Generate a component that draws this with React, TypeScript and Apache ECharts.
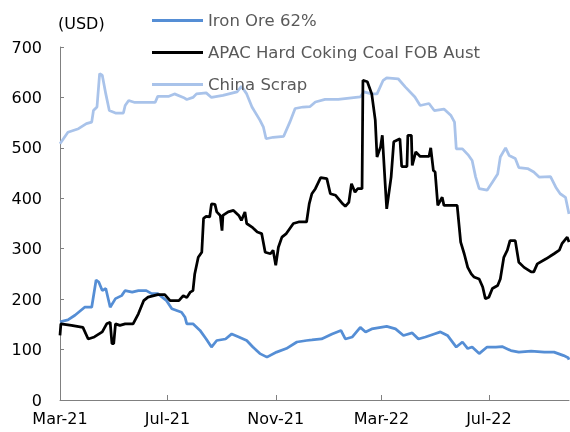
import React, { useEffect, useRef } from "react";
import * as echarts from "echarts";

const ironOre: [string, number][] = [
  ["2021-03-01", 155], ["2021-03-10", 159], ["2021-03-18", 168], ["2021-03-29", 184],
  ["2021-04-06", 184], ["2021-04-11", 238], ["2021-04-14", 234], ["2021-04-18", 217],
  ["2021-04-22", 221], ["2021-04-27", 184], ["2021-05-03", 201], ["2021-05-10", 207],
  ["2021-05-14", 217], ["2021-05-22", 214], ["2021-05-29", 217], ["2021-06-07", 217],
  ["2021-06-13", 211], ["2021-06-20", 211], ["2021-06-30", 197], ["2021-07-06", 181],
  ["2021-07-17", 174], ["2021-07-21", 164], ["2021-07-23", 151], ["2021-07-30", 151],
  ["2021-08-07", 138], ["2021-08-14", 121], ["2021-08-20", 105], ["2021-08-26", 118],
  ["2021-09-05", 121], ["2021-09-12", 131], ["2021-09-20", 125], ["2021-09-29", 118],
  ["2021-10-06", 105], ["2021-10-14", 92], ["2021-10-22", 85], ["2021-11-02", 95],
  ["2021-11-13", 102], ["2021-11-25", 115], ["2021-12-06", 118], ["2021-12-12", 119],
  ["2021-12-23", 121], ["2022-01-04", 131], ["2022-01-14", 138], ["2022-01-19", 121],
  ["2022-01-27", 125], ["2022-02-05", 144], ["2022-02-11", 135], ["2022-02-18", 141],
  ["2022-03-07", 146], ["2022-03-17", 141], ["2022-03-26", 128], ["2022-04-05", 133],
  ["2022-04-12", 121], ["2022-04-20", 125], ["2022-04-30", 131], ["2022-05-07", 135],
  ["2022-05-15", 128], ["2022-05-25", 105], ["2022-06-01", 115], ["2022-06-07", 102],
  ["2022-06-12", 105], ["2022-06-20", 92], ["2022-06-29", 105], ["2022-07-09", 105],
  ["2022-07-16", 106], ["2022-07-26", 98], ["2022-08-04", 95], ["2022-08-18", 97],
  ["2022-09-02", 95], ["2022-09-13", 95], ["2022-09-24", 88], ["2022-09-29", 84],
  ["2022-09-30", 80],
];

const cokingCoal: [string, number][] = [
  ["2021-03-01", 128], ["2021-03-02", 151], ["2021-03-14", 148], ["2021-03-27", 144],
  ["2021-04-02", 121], ["2021-04-09", 125], ["2021-04-18", 135], ["2021-04-23", 151],
  ["2021-04-27", 154], ["2021-04-29", 112], ["2021-05-01", 112], ["2021-05-03", 151],
  ["2021-05-08", 148], ["2021-05-14", 151], ["2021-05-23", 151], ["2021-05-29", 171],
  ["2021-06-04", 197], ["2021-06-09", 204], ["2021-06-20", 209], ["2021-06-28", 209],
  ["2021-07-04", 197], ["2021-07-14", 197], ["2021-07-19", 207], ["2021-07-23", 203],
  ["2021-07-27", 214], ["2021-07-30", 217], ["2021-08-01", 250], ["2021-08-05", 283],
  ["2021-08-09", 293], ["2021-08-11", 360], ["2021-08-14", 364], ["2021-08-18", 363],
  ["2021-08-20", 389], ["2021-08-24", 388], ["2021-08-26", 373], ["2021-08-30", 366],
  ["2021-09-01", 336], ["2021-09-02", 366], ["2021-09-08", 373], ["2021-09-14", 376],
  ["2021-09-20", 366], ["2021-09-23", 356], ["2021-09-27", 373], ["2021-09-29", 350],
  ["2021-10-05", 343], ["2021-10-11", 333], ["2021-10-16", 330], ["2021-10-20", 293],
  ["2021-10-26", 290], ["2021-10-29", 297], ["2021-11-01", 267], ["2021-11-04", 303],
  ["2021-11-08", 323], ["2021-11-13", 330], ["2021-11-21", 350], ["2021-11-27", 353],
  ["2021-12-06", 353], ["2021-12-09", 389], ["2021-12-12", 409], ["2021-12-16", 419],
  ["2021-12-22", 441], ["2021-12-29", 439], ["2022-01-02", 409], ["2022-01-08", 406],
  ["2022-01-16", 389], ["2022-01-19", 384], ["2022-01-23", 392], ["2022-01-26", 429],
  ["2022-01-30", 412], ["2022-02-02", 419], ["2022-02-07", 419], ["2022-02-08", 634],
  ["2022-02-13", 631], ["2022-02-18", 607], ["2022-02-22", 555], ["2022-02-24", 482],
  ["2022-02-28", 502], ["2022-03-02", 525], ["2022-03-05", 436], ["2022-03-07", 379],
  ["2022-03-12", 442], ["2022-03-15", 512], ["2022-03-22", 518], ["2022-03-24", 463],
  ["2022-03-30", 463], ["2022-03-31", 525], ["2022-04-04", 525], ["2022-04-05", 465],
  ["2022-04-09", 492], ["2022-04-14", 483], ["2022-04-24", 483], ["2022-04-26", 500],
  ["2022-04-29", 455], ["2022-05-01", 452], ["2022-05-04", 386], ["2022-05-09", 402],
  ["2022-05-11", 386], ["2022-05-26", 386], ["2022-05-30", 313], ["2022-06-03", 290],
  ["2022-06-07", 263], ["2022-06-11", 250], ["2022-06-14", 244], ["2022-06-20", 240],
  ["2022-06-24", 224], ["2022-06-27", 201], ["2022-07-01", 204], ["2022-07-05", 221],
  ["2022-07-11", 227], ["2022-07-14", 240], ["2022-07-18", 283], ["2022-07-22", 297],
  ["2022-07-25", 316], ["2022-07-31", 316], ["2022-08-04", 273], ["2022-08-10", 263],
  ["2022-08-18", 254], ["2022-08-21", 254], ["2022-08-25", 270], ["2022-09-04", 280],
  ["2022-09-13", 290], ["2022-09-19", 297], ["2022-09-22", 310], ["2022-09-28", 323],
  ["2022-09-30", 313],
];

const chinaScrap: [string, number][] = [
  ["2021-03-01", 508], ["2021-03-10", 531], ["2021-03-22", 538], ["2021-03-31", 548],
  ["2021-04-06", 551], ["2021-04-08", 574], ["2021-04-12", 581], ["2021-04-15", 647],
  ["2021-04-18", 644], ["2021-04-22", 607], ["2021-04-26", 574], ["2021-05-03", 569],
  ["2021-05-12", 569], ["2021-05-14", 584], ["2021-05-18", 594], ["2021-05-25", 590],
  ["2021-06-05", 590], ["2021-06-17", 590], ["2021-06-20", 602], ["2021-07-02", 602],
  ["2021-07-09", 607], ["2021-07-19", 600], ["2021-07-23", 596], ["2021-07-30", 600],
  ["2021-08-03", 607], ["2021-08-14", 609], ["2021-08-20", 600], ["2021-09-02", 604],
  ["2021-09-18", 611], ["2021-09-23", 622], ["2021-09-29", 607], ["2021-10-05", 581],
  ["2021-10-14", 555], ["2021-10-18", 541], ["2021-10-21", 518], ["2021-10-29", 521],
  ["2021-11-10", 523], ["2021-11-17", 551], ["2021-11-23", 578], ["2021-12-02", 581],
  ["2021-12-10", 582], ["2021-12-16", 591], ["2021-12-27", 596], ["2022-01-11", 596],
  ["2022-01-26", 599], ["2022-02-05", 601], ["2022-02-09", 611], ["2022-02-18", 607],
  ["2022-02-24", 607], ["2022-03-03", 634], ["2022-03-07", 639], ["2022-03-20", 637],
  ["2022-03-28", 621], ["2022-04-08", 601], ["2022-04-14", 584], ["2022-04-24", 588],
  ["2022-04-30", 574], ["2022-05-11", 577], ["2022-05-19", 564], ["2022-05-23", 551],
  ["2022-05-25", 498], ["2022-06-01", 498], ["2022-06-08", 485], ["2022-06-12", 475],
  ["2022-06-16", 442], ["2022-06-20", 419], ["2022-06-29", 416], ["2022-07-05", 432],
  ["2022-07-11", 448], ["2022-07-14", 482], ["2022-07-20", 500], ["2022-07-24", 485],
  ["2022-07-31", 479], ["2022-08-04", 461], ["2022-08-14", 459], ["2022-08-21", 452],
  ["2022-08-27", 442], ["2022-09-09", 443], ["2022-09-15", 422], ["2022-09-20", 409],
  ["2022-09-26", 402], ["2022-09-30", 369],
];

const seriesNames = ["Iron Ore 62%", "APAC Hard Coking Coal FOB Aust", "China Scrap"];
const seriesColors = ["#558ED5", "#000000", "#A9C3EA"];
const tickDates = ["2021-03-01", "2021-07-01", "2021-11-01", "2022-03-01", "2022-07-01"];
const tickLabels = ["Mar-21", "Jul-21", "Nov-21", "Mar-22", "Jul-22"];
const xStart = "2021-03-01";
const xEnd = "2022-09-30";

const toTs = (s: string) => {
  const [y, m, d] = s.split("-").map(Number);
  return Date.UTC(y, m - 1, d);
};

export default function App() {
  const ref = useRef<HTMLDivElement>(null);
  useEffect(() => {
    if (!ref.current) return;
    const chart = echarts.init(ref.current, undefined, { renderer: "svg" });
    const font = "DejaVu Sans";
    const tickTs = tickDates.map(toTs);
    const mk = (arr: [string, number][]) => arr.map(([d, v]) => [toTs(d), v]);
    const datasets = [ironOre, cokingCoal, chinaScrap];
    const zs = [3, 4, 2];
    chart.setOption({
      animation: false,
      grid: { left: 60, right: 1, top: 47, bottom: 32, containLabel: false },
      legend: {
        orient: "vertical",
        left: 152,
        top: 12,
        padding: 0,
        itemWidth: 51,
        itemHeight: 3,
        itemGap: 15,
        icon: "rect",
        textStyle: { fontFamily: font, fontSize: 16.5, lineHeight: 16, color: "#595959" },
        data: seriesNames,
      },
      graphic: [
        {
          type: "text",
          left: 58,
          top: 15,
          style: { text: "(USD)", fontFamily: font, fontSize: 16, fill: "#000" },
        },
      ],
      xAxis: {
        type: "value",
        min: toTs(xStart),
        max: toTs(xEnd),
        axisLine: { lineStyle: { color: "#808080", width: 1 } },
        axisTick: {
          show: true,
          inside: true,
          length: 5,
          customValues: tickTs,
          lineStyle: { color: "#808080" },
        },
        axisLabel: {
          customValues: tickTs,
          fontFamily: font,
          fontSize: 16,
          color: "#000",
          margin: 10,
          formatter: (val: number) => {
            const i = tickTs.indexOf(val);
            return i >= 0 ? tickLabels[i] : "";
          },
        },
        splitLine: { show: false },
      },
      yAxis: {
        type: "value",
        min: 0,
        max: 700,
        interval: 100,
        axisLine: { show: true, lineStyle: { color: "#808080", width: 1 } },
        axisTick: { show: true, inside: true, length: 4, lineStyle: { color: "#808080" } },
        axisLabel: { fontFamily: font, fontSize: 16, color: "#000", margin: 18 },
        splitLine: { show: false },
      },
      series: seriesNames.map((name, i) => ({
        name,
        type: "line",
        data: mk(datasets[i]),
        symbol: "none",
        showSymbol: false,
        z: zs[i],
        lineStyle: { color: seriesColors[i], width: 2.75 },
        itemStyle: { color: seriesColors[i] },
      })),
    });
    return () => chart.dispose();
  }, []);
  return <div ref={ref} style={{ width: 570, height: 432, position: "fixed", left: 0, top: 0 }} />;
}
